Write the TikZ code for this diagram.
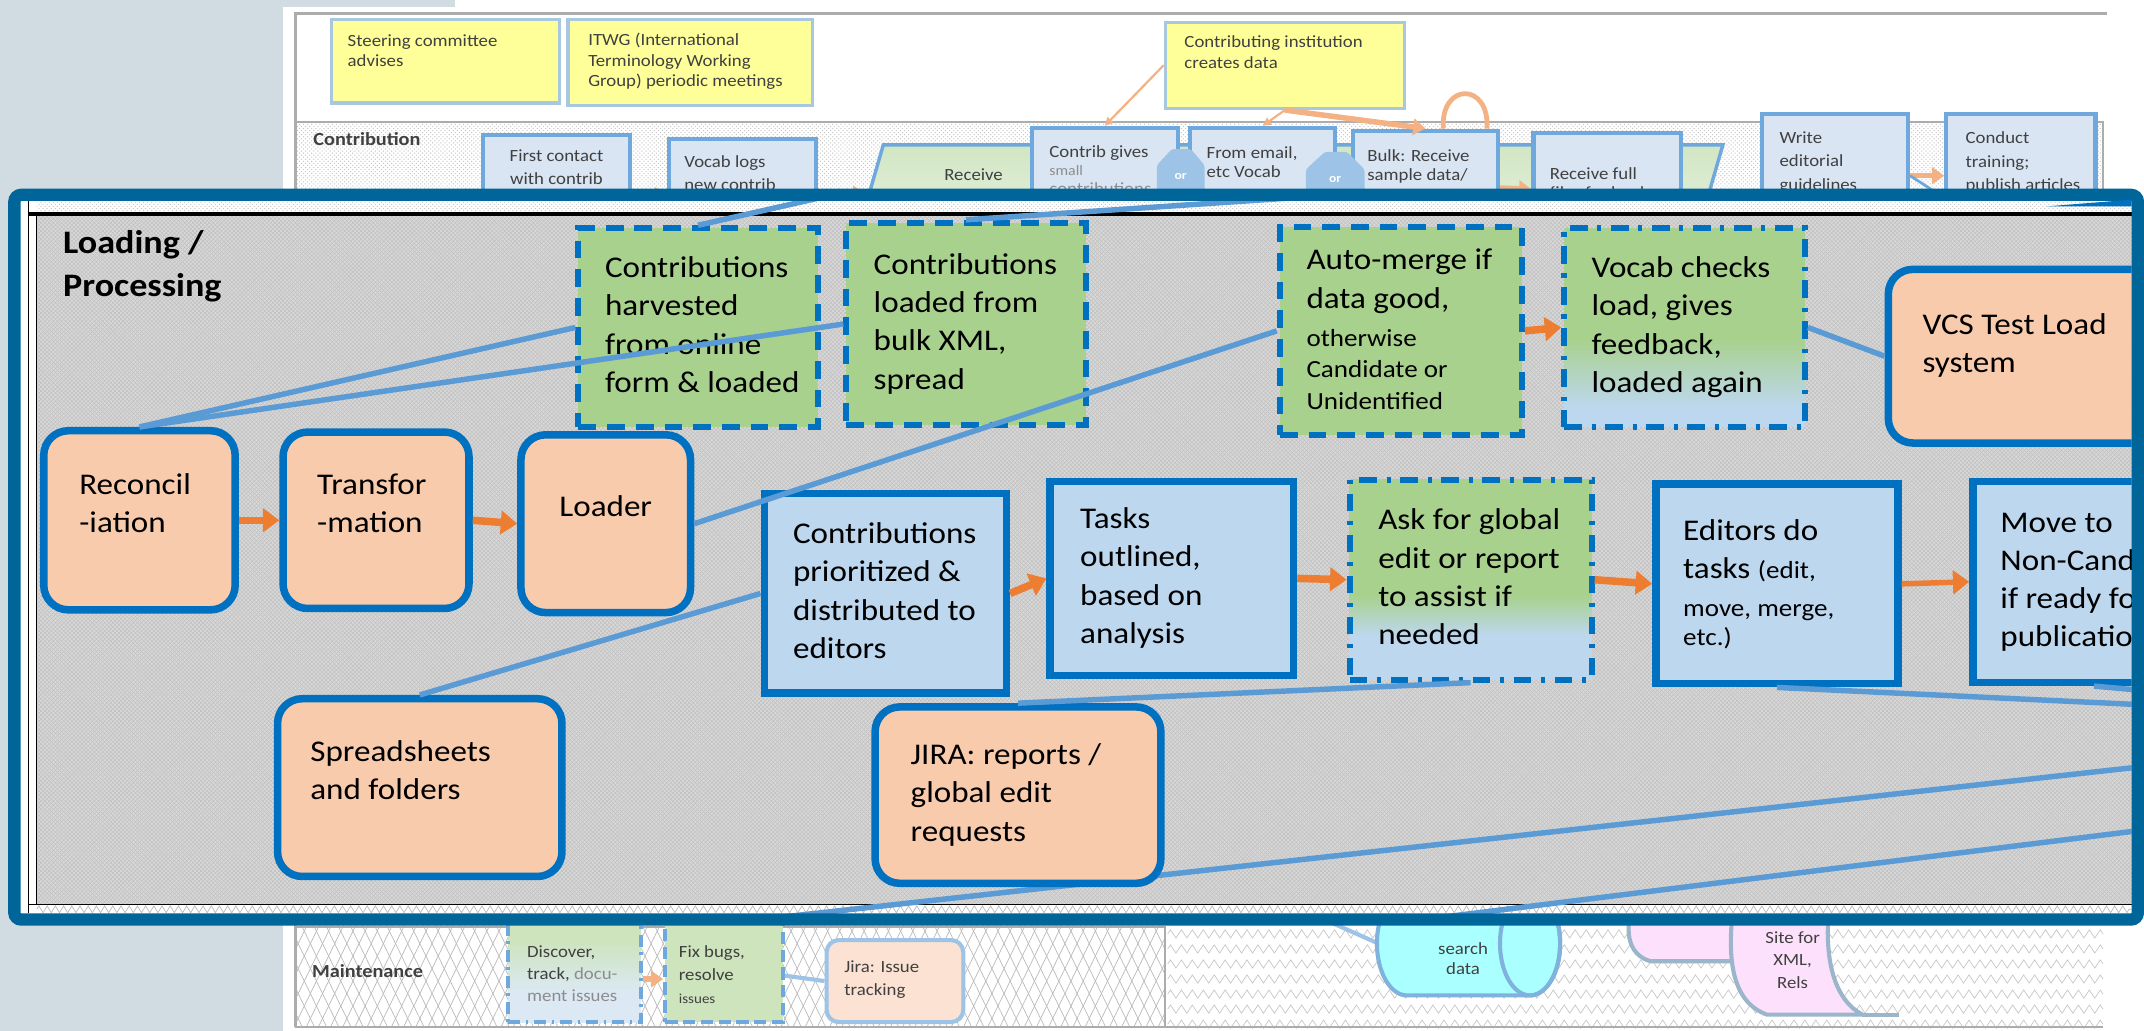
\documentclass[tikz,border=0pt]{standalone}
\usepackage{fontspec}
\setmainfont{Carlito}[FakeStretch=1.1]
\usetikzlibrary{arrows.meta,patterns,patterns.meta,decorations.pathmorphing}

\definecolor{bandC}{HTML}{D0DCE2}
\definecolor{panelC}{HTML}{00669A}
\definecolor{bdr}{HTML}{0070C0}
\definecolor{grn}{HTML}{A9D18E}
\definecolor{blu}{HTML}{BDD7EE}
\definecolor{org}{HTML}{F8CBAD}
\definecolor{arrC}{HTML}{ED7D31}
\definecolor{linC}{HTML}{5B9BD5}
\definecolor{yel}{HTML}{FFFF99}
\definecolor{ybd}{HTML}{A8C8E0}
\definecolor{cfill}{HTML}{DAE5F3}
\definecolor{cbd}{HTML}{6FA8DC}
\definecolor{larrC}{HTML}{F4B183}
\definecolor{txtg}{HTML}{404040}
\definecolor{gtxt}{HTML}{8C8C8C}
\definecolor{panG}{HTML}{D8D8D8}
\definecolor{panH}{HTML}{C2C2C2}
\definecolor{lgrn}{HTML}{CDE4BD}
\definecolor{lblu}{HTML}{DCE9F5}
\definecolor{orC}{HTML}{9DC3E6}
\definecolor{jirC}{HTML}{FBE2D2}
\definecolor{cyanC}{HTML}{AAFFFF}
\definecolor{cylB}{HTML}{7FB2DC}
\definecolor{pnk}{HTML}{FDE1FC}
\definecolor{pbd}{HTML}{9BB5CB}
\definecolor{trT}{HTML}{D1E6C3}
\definecolor{trB}{HTML}{E9F2E3}

\pgfdeclareverticalshading{shVocab}{100bp}{color(0bp)=(blu); color(30bp)=(blu); color(47bp)=(grn); color(100bp)=(grn)}
\pgfdeclareverticalshading{shAsk}{100bp}{color(0bp)=(blu); color(36bp)=(blu); color(46bp)=(grn); color(100bp)=(grn)}
\pgfdeclareverticalshading{shDisc}{100bp}{color(0bp)=(lblu); color(36bp)=(lblu); color(58bp)=(lgrn); color(100bp)=(lgrn)}

\newcommand\fbig{\fontsize{22}{28}\selectfont}
\newcommand\fsm{\fontsize{18}{23}\selectfont}
\newcommand\fbg{\fontsize{12.5}{15}\selectfont}
\newcommand\flab{\fontsize{13.5}{16}\selectfont\bfseries}

\newcommand\bt[2]{\makebox[#1pt][l]{\begin{tabular}{@{}l@{}}#2\end{tabular}}}
\newcommand\btc[2]{\makebox[#1pt][c]{\begin{tabular}{@{}c@{}}#2\end{tabular}}}
\newcommand\dn[1]{\rule[-#1pt]{0pt}{#1pt}}
\newcommand\tbl[5]{\parbox[c][#2pt][t]{#1pt}{\raggedright\leftskip=#3pt\relax\vspace*{#4pt}#5}}
\newcommand\tbc[4]{\parbox[c][#2pt][t]{#1pt}{\centering\vspace*{#3pt}#4}}

\tikzset{
 pbox/.style={line width=4.5pt, inner ysep=0pt, font=\fbig, text=black},
 gdash/.style={pbox, draw=bdr, fill=grn, dash pattern=on 13pt off 8pt},
 gdd/.style={pbox, draw=bdr, dash pattern=on 13pt off 7pt on 3pt off 7pt},
 bbox/.style={pbox, draw=bdr, fill=blu, line width=5.5pt},
 obox/.style={pbox, draw=bdr, fill=org, line width=5.5pt, rounded corners=18pt},
 blin/.style={draw=linC, line width=4pt},
 oarr/.style={draw=arrC, line width=5.5pt, -{Triangle[length=12pt,width=17pt]}},
 bgbox/.style={anchor=north west, inner sep=0pt, font=\fbg, text=txtg},
 ybox/.style={bgbox, draw=ybd, fill=yel, line width=2.5pt},
 cbox/.style={bgbox, draw=cbd, fill=cfill, line width=3pt},
 tarr/.style={draw=larrC, line width=1.6pt, -{Triangle[length=6pt,width=6pt]}},
 tarrK/.style={draw=larrC, line width=4pt, -{Triangle[length=9pt,width=12pt]}},
 bglab/.style={anchor=west, inner sep=0pt, font=\flab, text=txtg},
 bgtxt/.style={inner sep=0pt, font=\fbg, text=txtg, align=center},
 ortxt/.style={inner sep=0pt, font=\fontsize{9}{10}\selectfont\bfseries, text=white},
}

\begin{document}
\begin{tikzpicture}[x=1pt,y=-1pt]
\useasboundingbox (0,0) rectangle (1568,754);
\fill[white] (0,0) rectangle (1568,754);
\fill[bandC] (0,0) rectangle (207,754);
\fill[bandC] (207,0) rectangle (333,5);

% ---------- background diagram sections
\fill[white] (216,89) rectangle (1538,200);
\path[pattern=crosshatch dots, pattern color=gray!45] (216,89) rectangle (1538,200);
\path[pattern={Lines[angle=64,distance=8pt,line width=0.5pt]}, pattern color=gray!55] (216,650) rectangle (852,751);
\path[pattern={Lines[angle=116,distance=8pt,line width=0.5pt]}, pattern color=gray!55] (216,650) rectangle (852,751);
\foreach \yy in {683,694,...,749}
  \draw[gray!45, line width=0.5pt, decorate, decoration={zigzag,segment length=8pt,amplitude=3pt}] (854,\yy) -- (1538,\yy);
\draw[gray!65, line width=2pt] (216,751) -- (216,10) -- (1541,10);
\draw[gray!65, line width=1.5pt] (216,89) -- (1538,89) -- (1538,200);
\draw[gray!65, line width=1.5pt] (216,678) -- (852,678) -- (852,751);
\draw[gray!65, line width=1pt] (216,751) -- (1538,751);

% ---------- top yellow boxes
\node[ybox] (steer) at (241,13) {\tbl{167}{61}{12}{11}{Steering committee\\advises}};
\node[ybox] (itwg) at (414,13) {\tbl{179}{63}{15}{10}{ITWG (International\\Terminology Working\\Group) periodic meetings}};
\node[ybox] (inst) at (851,15) {\tbl{175}{63}{14}{10}{Contributing institution\\creates data}};

% ---------- contribution section
\node[bglab] (contribLbl) at (229,102) {Contribution};
\path[draw=cbd, line width=2.5pt, top color=trT, bottom color=trB] (646,106) -- (1260,106) -- (1240,175) -- (626,175) -- cycle;
\node[bgtxt] (recv) at (712,128) {Receive};
\node[cbox] (first) at (352,97) {\tbc{107}{89}{11}{\fontsize{12.5}{17}\selectfont First contact\\with contrib}};
\node[cbox] (vlog) at (488,100) {\tbl{107}{83}{11}{12}{\fontsize{12.5}{17}\selectfont Vocab logs\\new contrib}};
\node[cbox] (cgive) at (753,92) {\tbl{107}{86}{13}{13}{\fontsize{12.5}{13.5}\selectfont Contrib gives\\{\color{gtxt}\fontsize{10.5}{13.5}\selectfont small}\\{\color{gtxt}contributions}}};
\node[cbox] (fmail) at (869,92) {\tbl{106}{86}{12}{14}{\fontsize{12.5}{14}\selectfont From email,\\etc Vocab}};
\node[cbox] (bulkc) at (988,94) {\tbl{106}{84}{10.5}{14}{\fontsize{12.5}{14}\selectfont Bulk: Receive\\sample data/}};
\node[cbox] (recfull) at (1120,96) {\tbl{108}{82}{12}{25}{\fontsize{12.5}{14}\selectfont Receive full\\files for load}};
\node[cbox] (write) at (1287,82) {\tbl{107}{90}{13}{13}{\fontsize{12.5}{17}\selectfont Write\\editorial\\guidelines}};
\node[cbox] (conduct) at (1422,82) {\tbl{109}{90}{14}{13}{\fontsize{12.5}{17}\selectfont Conduct\\training;\\publish articles}};
\path[fill=orC, rounded corners=2pt] (857,109) -- (871,109) -- (881,121) -- (881,150) -- (846,150) -- (846,121) -- cycle;
\node[ortxt] (or1) at (863.5,129) {or};
\path[fill=orC, rounded corners=2pt] (969,111) -- (985,111) -- (998,124) -- (998,150) -- (955,150) -- (955,124) -- cycle;
\node[ortxt] (or2) at (976.5,131) {or};
\draw[tarr] (inst.west) -- (cgive.north);
\draw[tarr] (inst.south) -- (fmail.north);
\draw[tarrK] (inst.south) -- (bulkc.north);
\draw[larrC, line width=3.5pt] ([xshift=13pt]bulkc.north) .. controls +(-2,-34) and +(2,-34) .. ([xshift=45pt]bulkc.north);
\draw[tarrK] (bulkc.east) -- (recfull.west);
\draw[tarrK] (first.east) -- (vlog.west);
\coordinate (trapL) at (633,141.5);
\draw[tarrK] (vlog.east) -- (trapL);
\draw[tarrK] (write.east) -- (conduct.west);
\coordinate (wrLn) at (1430,150);
\draw[cbd, line width=2pt] (write.east) -- (wrLn);

% ---------- maintenance section
\node[bglab] (maintLbl) at (228,710) {Maintenance};
\node[bgbox, draw=cbd, line width=3pt, dash pattern=on 9pt off 4pt on 2pt off 4pt, shading=shDisc] (disc) at (370,655) {\tbl{97}{91}{14}{35}{\fontsize{12.5}{16}\selectfont Discover,\\track, {\color{gtxt}docu-}\\{\color{gtxt}ment issues}}};
\node[bgbox, draw=cbd, line width=3pt, dash pattern=on 9pt off 4pt, fill=lgrn] (fix) at (485,655) {\tbl{86}{91}{10}{35}{\fontsize{12.5}{17}\selectfont Fix bugs,\\resolve\\{\fontsize{10}{12}\selectfont issues}}};
\node[bgbox, draw=orC, line width=3pt, fill=jirC, rounded corners=9pt] (jiram) at (603,686) {\tbl{100}{60}{13}{15}{\fontsize{12.5}{17}\selectfont Jira: Issue\\tracking}};
\draw[tarrK] ([yshift=-14pt]disc.east) -- ([yshift=-14pt]fix.west);
\draw[orC, line width=3pt] ([yshift=-11.5pt]fix.east) -- (jiram.west);

\coordinate (cylIn) at (945,662);
\coordinate (cylL) at (1008,690);
\draw[orC, line width=3pt] (cylIn) -- (cylL);
\path[fill=cyanC, draw=cylB, line width=3pt] (1029,652) arc[start angle=270, end angle=90, x radius=22, y radius=38] -- (1119,728) arc[start angle=90, end angle=-90, x radius=22, y radius=38] -- cycle;
\draw[cylB, line width=3pt] (1119,690) ellipse [x radius=22, y radius=38];
\node[bgtxt, font=\fontsize{12.5}{15}\selectfont] (srch) at (1070,701) {search\\data};

\path[fill=pnk, draw=pbd, line width=3pt] (1196,655) .. controls (1187,680) and (1190,698) .. (1207,703) -- (1300,703) -- (1300,655) -- cycle;
\path[fill=pnk, draw=pbd, line width=3pt] (1268,660) .. controls (1262,705) and (1268,733) .. (1292,742) -- (1362,742) .. controls (1343,732) and (1333,705) .. (1338,660) -- cycle;
\draw[pbd, line width=3pt] (1362,742) -- (1389,742);
\node[bgtxt, font=\fontsize{12.5}{16.5}\selectfont] (site) at (1311,702) {Site for\\XML,\\Rels};

% ---------- magnified panel
\fill[white] (10.5,142.5) rectangle (1563.5,672.5);
\path[pattern=crosshatch dots, pattern color=gray!45] (27,147) rectangle (1559,155);
\fill[panG] (27,158) rectangle (1559,661);
\path[pattern=crosshatch, pattern color=panH] (27,158) rectangle (1559,661);
\draw[black, line width=2.8pt] (21,156.5) -- (1559,156.5);
\draw[black, line width=1pt] (21,661.5) -- (1559,661.5);
\draw[gray!55, line width=0.5pt, decorate, decoration={zigzag,segment length=6pt,amplitude=2.5pt}] (27,665) -- (1559,665);
\draw[black, line width=0.8pt] (21,147) -- (21,668);
\draw[black, line width=0.8pt] (26.5,158) -- (26.5,661);

\begin{scope}
\clip (15,147) rectangle (1559,668);
\coordinate (c10a) at (560,672);
\coordinate (c10b) at (1600,557);
\coordinate (c11a) at (1045,672);
\coordinate (c11b) at (1600,603);
\draw[blin] (c10a) -- (c10b);
\draw[blin] (c11a) -- (c11b);

\node[gdash, minimum width=175pt, minimum height=145pt, inner xsep=19.5pt] (harv) at (510.5,239.5) {\bt{136}{Contributions\\harvested\\from online\\form \& loaded}};
\node[gdash, minimum width=175pt, minimum height=148pt, inner xsep=20pt] (bulk) at (706.5,237) {\bt{135}{Contributions\\loaded from\\bulk XML,\\spread}};
\node[gdash, minimum width=177pt, minimum height=152pt, inner xsep=19.5pt] (auto) at (1024.5,242) {\bt{138}{Auto-merge if\\data good,\\\fsm\begin{tabular}[t]{@{}l@{}}otherwise\\Candidate or\\Unidentified\end{tabular}}};
\node[gdd, shading=shVocab, minimum width=176pt, minimum height=145pt, inner xsep=20pt] (vocab) at (1232,239.5) {\bt{136}{Vocab checks\\load, gives\\feedback,\\loaded again}};
\node[obox, minimum width=219pt, minimum height=127pt, inner xsep=25pt] (vcs) at (1490.5,260.5) {\bt{169}{VCS Test Load\\system\dn{24}}};
\node[obox, minimum width=140pt, minimum height=131pt, inner xsep=26pt] (rec) at (102,380.5) {\bt{88}{Reconcil\\-iation\dn{30}}};
\node[obox, minimum width=136pt, minimum height=129pt, inner xsep=25pt] (trans) at (275,380.5) {\bt{86}{Transfor\\-mation\dn{30}}};
\node[obox, minimum width=124pt, minimum height=130pt, inner xsep=10pt] (loader) at (443,383) {\btc{104}{Loader\dn{30}}};
\node[bbox, minimum width=177pt, minimum height=146pt, inner xsep=21pt] (prio) at (647.5,434) {\bt{135}{Contributions\\prioritized \&\\distributed to\\editors}};
\node[bbox, minimum width=178pt, minimum height=142pt, inner xsep=22pt] (tasks) at (857,423) {\bt{134}{Tasks\\outlined,\\based on\\analysis}};
\node[gdd, shading=shAsk, minimum width=177pt, minimum height=146pt, inner xsep=21pt] (ask) at (1075.5,424) {\bt{135}{Ask for global\\edit or report\\to assist if\\needed}};
\node[bbox, minimum width=177pt, minimum height=146pt, inner xsep=20pt] (editors) at (1299.5,427) {\bt{137}{Editors do\\tasks {\fsm(edit,}\\\fontsize{18}{21}\selectfont\begin{tabular}[t]{@{}l@{}}move, merge,\\etc.)\end{tabular}}};
\node[bbox, minimum width=177pt, minimum height=147pt, inner xsep=20pt] (move) at (1531.5,425.5) {\bt{137}{Move to\\Non-Candidate\\if ready for\\publication}};
\node[obox, minimum width=208pt, minimum height=130pt, inner xsep=24pt] (spread) at (307,576) {\bt{160}{Spreadsheets\\and folders\dn{30}}};
\node[obox, minimum width=209pt, minimum height=129pt, inner xsep=26pt] (jira) at (744.5,581.5) {\bt{157}{JIRA: reports /\\global edit\\requests}};

\coordinate (c3) at (700,122);
\coordinate (c4) at (1000,141);
\coordinate (c8) at (1600,517);
\coordinate (c9) at (1600,508);
\draw[blin] (rec.north) -- (harv.west);
\draw[blin] (rec.north) -- (bulk.west);
\draw[blin] (harv.north) -- (c3);
\draw[blin] (bulk.north) -- (c4);
\draw[blin] (loader.east) -- (auto.west);
\draw[blin] (prio.west) -- (spread.north);
\draw[blin] (ask.south) -- (jira.north);
\draw[blin] (editors.south) -- (c8);
\draw[blin] (move.south) -- (c9);
\draw[blin] (vocab.east) -- (vcs.west);

\draw[oarr] (rec.east) -- (trans.west);
\draw[oarr] (trans.east) -- (loader.west);
\draw[oarr] (prio.east) -- (tasks.west);
\draw[oarr] (tasks.east) -- (ask.west);
\draw[oarr] (ask.east) -- (editors.west);
\draw[oarr, line width=4pt] (editors.east) -- (move.west);
\draw[oarr] (auto.east) -- (vocab.west);

\node[anchor=north west, inner sep=0pt, font=\fontsize{24}{31.5}\selectfont\bfseries, align=left] (lp) at (46,168) {Loading /\\Processing};
\end{scope}
\draw[panelC, line width=9pt, rounded corners=5pt] (10.5,142.5) rectangle (1563.5,672.5);
\fill[bdr] (1496,151) -- (1559,146) -- (1559,151) -- cycle;
\end{tikzpicture}
\end{document}
